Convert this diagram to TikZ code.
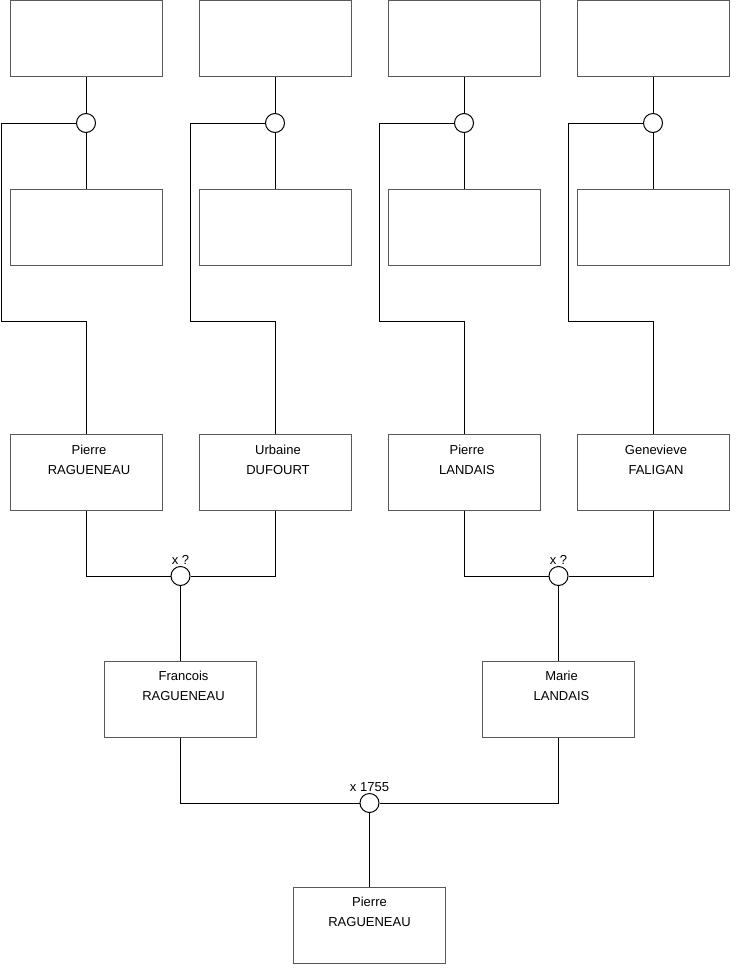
\documentclass[tikz,border=0pt]{standalone}
\usepackage{fontspec}
\setmainfont{Liberation Sans}
\begin{document}
\begin{tikzpicture}[x=1pt,y=-1pt,line width=1pt,
  every node/.style={font=\fontsize{13}{20}\selectfont},
  person/.style={draw=black!65,minimum width=152pt,minimum height=76pt,inner sep=0pt,align=center},
  union/.style={circle,draw,fill=white,minimum size=19pt,inner sep=0pt},
  date/.style={inner sep=1pt}]
\useasboundingbox (0,0) rectangle (740,975);

\foreach \i/\x/\first/\last in {1/86/Pierre/RAGUENEAU,2/275/Urbaine/DUFOURT,3/464/Pierre/LANDAIS,4/653/Genevieve/FALIGAN}
{
\node[person] (a\i) at (\x,38.5) {};
\node[union] (u\i) at (\x,123) {};
\node[person] (b\i) at (\x,227) {};
\draw (a\i) -- (u\i) -- (b\i);
\node[person] (g\i) at (\x,472.5) {\hspace*{6pt}\first\\\hspace*{6pt}\last\\\strut};
\draw (u\i.west) -| ({\x-85},321) -| (g\i.north);
}

\node[union,label={[date]above:x ?}] (m1) at (180.5,576) {};
\node[union,label={[date]above:x ?}] (m2) at (558.5,576) {};
\node[person] (p1) at (180.5,699) {\hspace*{6pt}Francois\\\hspace*{6pt}RAGUENEAU\\\strut};
\node[person] (p2) at (558.5,699) {\hspace*{6pt}Marie\\\hspace*{6pt}LANDAIS\\\strut};
\draw (g1) |- (m1) -| (g2);
\draw (g3) |- (m2) -| (g4);
\draw (m1) -- (p1);
\draw (m2) -- (p2);

\node[union,label={[date]above:x 1755}] (m3) at (369.5,803) {};
\node[person] (r) at (369.5,925) {Pierre\\RAGUENEAU\\\strut};
\draw (p1) |- (m3) -| (p2);
\draw (m3) -- (r);
\end{tikzpicture}
\end{document}
